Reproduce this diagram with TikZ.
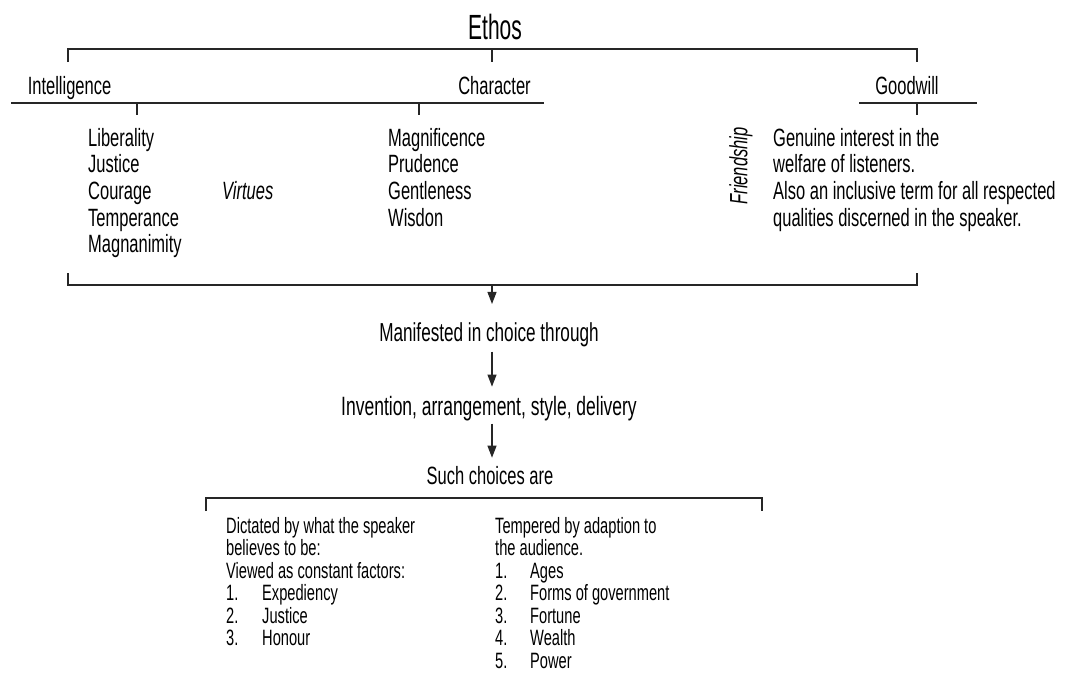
\documentclass[tikz,border=0pt]{standalone}
\usepackage{fontspec}
\setmainfont[FakeStretch=0.66]{Liberation Sans}
\newfontfamily\ethosfont[FakeStretch=0.6]{Liberation Sans}
\usetikzlibrary{arrows.meta}
\begin{document}
\begin{tikzpicture}[x=1pt,y=-1pt,
  line/.style={draw=black!85, line width=1.1pt},
  arr/.style={line, -{Triangle[length=12pt,width=9pt]}},
  txt/.style={inner sep=0pt, font=\fontsize{25}{26.7}\selectfont},
  lst/.style={inner sep=0pt, font=\fontsize{25}{26.7}\selectfont, align=left, anchor=base west},
  lowl/.style={inner sep=0pt, font=\fontsize{22.2}{22.5}\selectfont, align=left, anchor=base west}
]
\useasboundingbox (0,0) rectangle (1074,699);

% top level
\node[inner sep=0pt, anchor=base, font=\ethosfont\fontsize{35}{36}\selectfont] (ethos) at (495,39) {Ethos};
\node[txt, anchor=base] (intel) at (69.5,94) {Intelligence};
\node[txt, anchor=base] (char) at (494.5,94) {Character};
\node[txt, anchor=base] (good) at (907,94) {Goodwill};

% top bracket
\coordinate (tl) at (68,62);
\coordinate (tm) at (492,62);
\coordinate (tr) at (917,62);
\draw[line] (tl) -- (68,49) -- (917,49) -- (tr);
\draw[line] (492,49) -- (tm);

% under-lines
\coordinate (ul1) at (11,103);
\coordinate (ul2) at (544,103);
\draw[line] (ul1) -- (ul2);
\coordinate (t1) at (137,115);
\coordinate (t2) at (419,115);
\draw[line] (137,103) -- (t1);
\draw[line] (419,103) -- (t2);
\coordinate (gl1) at (859,103);
\coordinate (gl2) at (977,103);
\draw[line] (gl1) -- (gl2);
\coordinate (t3) at (917,115);
\draw[line] (917,103) -- (t3);

% lists (base anchor = baseline of last line)
\node[lst] (lib) at (88,252.8) {Liberality\\Justice\\Courage\\Temperance\\Magnanimity};
\node[lst, font=\fontsize{25}{26.7}\selectfont\itshape] (virt) at (222,199.4) {Virtues};
\node[lst] (mag) at (388,226.1) {Magnificence\\Prudence\\Gentleness\\Wisdon};
\node[txt, rotate=90, font=\fontsize{25}{26}\selectfont\itshape] (fri) at (741,166) {Friendship};
\node[lst] (gen) at (773,226.1) {Genuine interest in the\\welfare of listeners.\\Also an inclusive term for all respected\\qualities discerned in the speaker.};

% bottom bracket of upper part
\coordinate (bl) at (68,273);
\coordinate (br) at (917,273);
\coordinate (bm) at (492,285);
\draw[line] (bl) -- (68,285) -- (917,285) -- (br);

% flow
\node[txt, anchor=base, font=\fontsize{26}{27}\selectfont] (man) at (489,341) {Manifested in choice through};
\node[txt, anchor=base, font=\fontsize{26.5}{27}\selectfont] (inv) at (489,415) {Invention, arrangement, style, delivery};
\node[txt, anchor=base] (such) at (490,484) {Such choices are};
\draw[arr, shorten >=18pt] (bm) -- (bm |- man.north);
\draw[arr, shorten <=5pt, shorten >=9pt] (bm |- man.south) -- (bm |- inv.north);
\draw[arr, shorten <=3pt, shorten >=8pt] (bm |- inv.south) -- (bm |- such.north);

% lower bracket
\coordinate (ll) at (206,511);
\coordinate (lr) at (762,511);
\draw[line] (ll) -- (206,498) -- (762,498) -- (lr);

\node[lowl] (dict) at (226,645.5) {Dictated by what the speaker\\believes to be:\\Viewed as constant factors:\\
\makebox[36pt][l]{1.}Expediency\\\makebox[36pt][l]{2.}Justice\\\makebox[36pt][l]{3.}Honour};
\node[lowl] (temp) at (495,668) {Tempered by adaption to\\the audience.\\
\makebox[35pt][l]{1.}Ages\\\makebox[35pt][l]{2.}Forms of government\\\makebox[35pt][l]{3.}Fortune\\\makebox[35pt][l]{4.}Wealth\\\makebox[35pt][l]{5.}Power};
\end{tikzpicture}
\end{document}
